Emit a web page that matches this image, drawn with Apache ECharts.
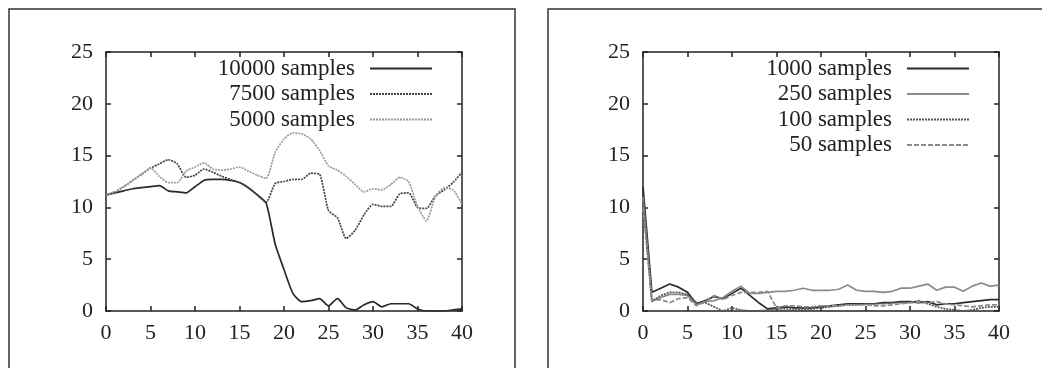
<!DOCTYPE html>
<html>
<head>
<meta charset="utf-8">
<script src="https://cdn.jsdelivr.net/npm/echarts@6/dist/echarts.min.js"></script>
<style>
  html, body { margin: 0; padding: 0; background: #fff; }
  #chart { width: 1042px; height: 368px; }
</style>
</head>
<body>
<div id="chart"></div>
<script>
// x positions shared by both panels
var xs = [];
for (var k = 0; k <= 40; k++) xs.push(k);

// left panel
var leftNames = ['10000 samples', '7500 samples', '5000 samples'];
var s10000 = [11.2, 11.4, 11.6, 11.8, 11.9, 12.0, 12.1, 11.6, 11.5, 11.4,
    12.0, 12.6, 12.7, 12.7, 12.6, 12.4, 11.9, 11.2, 10.4, 6.5,
    4.0, 1.7, 0.9, 1.0, 1.2, 0.5, 1.2, 0.3, 0.1, 0.6,
    0.9, 0.4, 0.7, 0.7, 0.7, 0.2, 0.0, 0.0, 0.0, 0.1, 0.2];
var s7500 = [11.2, 11.5, 12.0, 12.6, 13.2, 13.8, 14.2, 14.6, 14.2, 12.9,
    13.1, 13.7, 13.4, 13.0, 12.7, 12.4, 11.9, 11.2, 10.5, 12.3,
    12.5, 12.7, 12.7, 13.3, 13.2, 9.7, 9.0, 7.0, 7.8, 9.3,
    10.3, 10.1, 10.1, 11.3, 11.4, 10.0, 9.9, 11.1, 11.7, 12.4, 13.4];
var s5000 = [11.2, 11.5, 12.0, 12.6, 13.2, 13.8, 13.0, 12.4, 12.4, 13.5,
    13.9, 14.3, 13.7, 13.6, 13.7, 13.9, 13.5, 13.1, 12.8, 15.3,
    16.6, 17.2, 17.1, 16.6, 15.5, 14.0, 13.6, 13.0, 12.2, 11.5,
    11.8, 11.7, 12.2, 12.9, 12.5, 10.1, 8.7, 11.0, 11.9, 11.7, 10.3];

// right panel
var rightNames = ['1000 samples', '250 samples', '100 samples', '50 samples'];
var s1000 = [12.0, 1.8, 2.2, 2.6, 2.3, 1.8, 0.7, 1.0, 1.4, 1.2,
    1.7, 2.2, 1.5, 0.8, 0.2, 0.3, 0.4, 0.3, 0.3, 0.3,
    0.4, 0.5, 0.6, 0.7, 0.7, 0.7, 0.7, 0.8, 0.8, 0.9,
    0.9, 0.8, 0.9, 0.6, 0.7, 0.7, 0.8, 0.9, 1.0, 1.1, 1.1];
var s250 = [11.0, 1.0, 1.3, 1.6, 1.6, 1.5, 0.6, 0.9, 1.0, 1.3,
    1.9, 2.4, 1.7, 1.7, 1.8, 1.9, 1.9, 2.0, 2.2, 2.0,
    2.0, 2.0, 2.1, 2.5, 2.0, 1.9, 1.9, 1.8, 1.9, 2.2,
    2.2, 2.4, 2.6, 2.0, 2.3, 2.3, 1.9, 2.4, 2.7, 2.4, 2.5];
var s100 = [10.5, 0.9, 1.5, 1.8, 1.8, 1.6, 0.8, 0.8, 0.4, 0.0,
    0.3, 0.1, 0.0, 0.0, 0.1, 0.2, 0.2, 0.1, 0.1, 0.2,
    0.3, 0.4, 0.5, 0.6, 0.6, 0.7, 0.7, 0.7, 0.8, 0.8,
    0.8, 1.0, 0.7, 0.4, 0.2, 0.1, 0.0, 0.1, 0.3, 0.4, 0.4];
var s50 = [10.0, 1.0, 1.1, 0.8, 1.2, 1.3, 0.5, 0.9, 1.5, 1.1,
    1.5, 1.8, 1.8, 1.8, 1.9, 0.3, 0.5, 0.5, 0.4, 0.4,
    0.5, 0.5, 0.5, 0.6, 0.6, 0.6, 0.5, 0.5, 0.6, 0.7,
    0.8, 0.8, 0.8, 0.9, 0.7, 0.6, 0.5, 0.4, 0.5, 0.6, 0.6];

var FONT = 'Liberation Serif';
var INK = '#222';

function pairs(vals) {
    var out = [];
    for (var i = 0; i < vals.length; i++) out.push([xs[i], vals[i]]);
    return out;
}

// a value axis; mirror = no labels, ticks only (top / right frame)
function axis(kind, grid, mirror, pos) {
    return {
        type: 'value',
        gridIndex: grid,
        position: pos,
        min: 0,
        max: kind === 'x' ? 40 : 25,
        interval: 5,
        splitLine: {show: false},
        axisLine: {show: true, onZero: false, lineStyle: {color: INK, width: 1.5}},
        axisTick: {show: true, inside: true, length: 5, lineStyle: {color: INK, width: 1.5}},
        axisLabel: {
            show: !mirror,
            color: INK,
            fontFamily: FONT,
            fontSize: 22,
            margin: kind === 'x' ? 11 : 13
        }
    };
}

function line(name, vals, x, y, color, type, smooth) {
    return {
        name: name,
        type: 'line',
        xAxisIndex: x,
        yAxisIndex: y,
        data: pairs(vals),
        symbol: 'none',
        smooth: smooth || false,
        animation: false,
        lineStyle: {color: color, width: 1.7, type: type},
        itemStyle: {color: color}
    };
}

function legend(names, right) {
    return {
        data: names,
        orient: 'vertical',
        align: 'right',
        right: right,
        top: 57,
        padding: 0,
        itemWidth: 62,
        itemHeight: 10,
        itemGap: 2.5,
        selectedMode: false,
        itemStyle: {opacity: 0},   // hide the dot, keep the line sample
        textStyle: {
            fontFamily: FONT,
            fontSize: 23,
            lineHeight: 22,
            color: INK,
            padding: [0, 10, 0, 0]
        }
    };
}

var chart = echarts.init(document.getElementById('chart'));
chart.setOption({
    backgroundColor: '#fff',
    animation: false,
    grid: [
        {left: 106, right: 580, top: 52, bottom: 57},
        {left: 643, right: 43, top: 52, bottom: 57}
    ],
    xAxis: [
        axis('x', 0, false, 'bottom'),
        axis('x', 0, true, 'top'),
        axis('x', 1, false, 'bottom'),
        axis('x', 1, true, 'top')
    ],
    yAxis: [
        axis('y', 0, false, 'left'),
        axis('y', 0, true, 'right'),
        axis('y', 1, false, 'left'),
        axis('y', 1, true, 'right')
    ],
    legend: [legend(leftNames, 609), legend(rightNames, 72)],
    graphic: [
        {type: 'rect', shape: {x: 9, y: 9, width: 506, height: 380},
            style: {fill: null, stroke: '#333', lineWidth: 1.5}, silent: true},
        {type: 'rect', shape: {x: 548, y: 9, width: 520, height: 380},
            style: {fill: null, stroke: '#333', lineWidth: 1.5}, silent: true}
    ],
    series: [
        line(leftNames[0], s10000, 0, 0, '#2a2a2a', 'solid', 0.2),
        line(leftNames[1], s7500, 0, 0, '#444', [2, 1], 0.2),
        line(leftNames[2], s5000, 0, 0, '#9a9a9a', [2, 1], 0.2),
        line(rightNames[0], s1000, 2, 2, '#2a2a2a', 'solid'),
        line(rightNames[1], s250, 2, 2, '#8a8a8a', 'solid'),
        line(rightNames[2], s100, 2, 2, '#555', [2, 1]),
        line(rightNames[3], s50, 2, 2, '#8a8a8a', [5, 2])
    ]
});
</script>
</body>
</html>
